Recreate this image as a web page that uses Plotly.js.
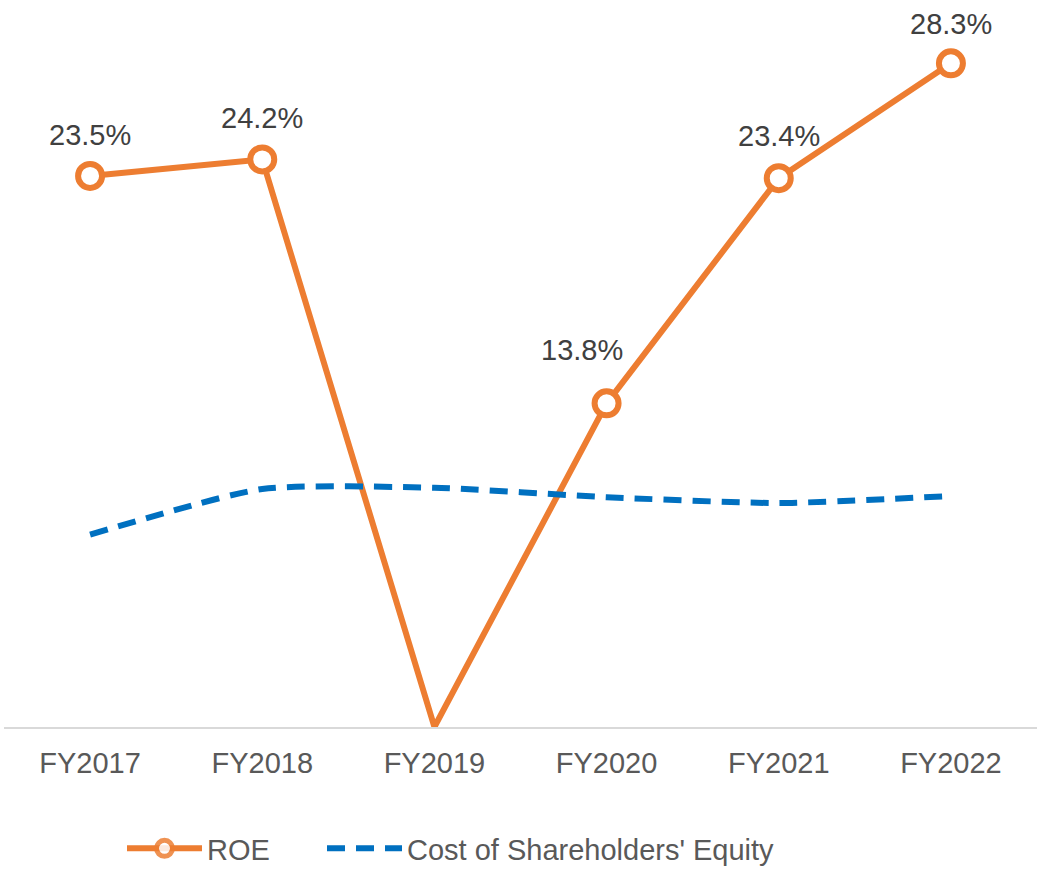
<!DOCTYPE html>
<html>
<head>
<meta charset="utf-8">
<script src="https://cdn.plot.ly/plotly-3.0.1.min.js"></script>
<style>html,body{margin:0;padding:0;background:#fff;}#chart{width:1037px;height:872px;}</style>
</head>
<body>
<div id="chart"></div>
<script>
const categories = ["FY2017", "FY2018", "FY2019", "FY2020", "FY2021", "FY2022"];
const roe = [23.5, 24.2, 0, 13.8, 23.4, 28.3];
const roeLabels = ["23.5%", "24.2%", "", "13.8%", "23.4%", "28.3%"];
const costOfEquity = [8.2, 10.15, 10.2, 9.8, 9.55, 9.85];

const labelXShift = [0, 0, 0, -25, 0, 0];
const labelYShift = [41, 41, 0, 53, 42, 39];
const FONT = "Liberation Sans, Arial, sans-serif";
const FS = 29;

const annotations = [];
categories.forEach((c, i) => {
  if (!roeLabels[i]) return;
  annotations.push({
    x: c, y: roe[i], text: roeLabels[i], showarrow: false,
    xshift: labelXShift[i], yshift: labelYShift[i],
    font: {family: FONT, size: FS, color: "#404040"}
  });
});

const data = [
  {
    x: categories, y: roe, name: "ROE", type: "scatter", mode: "lines+markers",
    line: {color: "#ED7D31", width: 6},
    marker: {symbol: "circle", size: 24, color: "#FFFFFF",
             opacity: roe.map((v, i) => roeLabels[i] ? 1 : 0),
             line: {color: "#ED7D31", width: 6}},
    cliponaxis: false, legend: "legend"
  },
  {
    x: categories, y: costOfEquity, name: "Cost of Shareholders' Equity", type: "scatter", mode: "lines",
    line: {color: "#0070C0", width: 6, dash: "18px,11px", shape: "spline", smoothing: 0.6},
    legend: "legend2"
  }
];

const legendBase = {
  orientation: "h", xanchor: "left", xref: "container",
  yref: "container", y: 0.027, yanchor: "middle",
  itemwidth: 75, bgcolor: "rgba(0,0,0,0)",
  font: {family: FONT, size: FS, color: "#595959"}
};

const layout = {
  width: 1037, height: 872,
  margin: {l: 4, r: 0, t: 0, b: 145},
  paper_bgcolor: "#FFFFFF", plot_bgcolor: "#FFFFFF",
  font: {family: FONT, size: FS, color: "#595959"},
  xaxis: {
    type: "category", range: [-0.5, 5.5], showgrid: false, zeroline: false,
    showline: true, linecolor: "#D9D9D9", linewidth: 1.5,
    ticks: "", ticklabelstandoff: 10,
    tickfont: {family: FONT, size: FS, color: "#595959"}
  },
  yaxis: {range: [0, 31], visible: false, showgrid: false, zeroline: false},
  showlegend: true,
  legend: Object.assign({}, legendBase, {x: 122 / 1037}),
  legend2: Object.assign({}, legendBase, {x: 322 / 1037}),
  annotations: annotations
};

Plotly.newPlot("chart", data, layout, {displayModeBar: false, staticPlot: true});
</script>
</body>
</html>
